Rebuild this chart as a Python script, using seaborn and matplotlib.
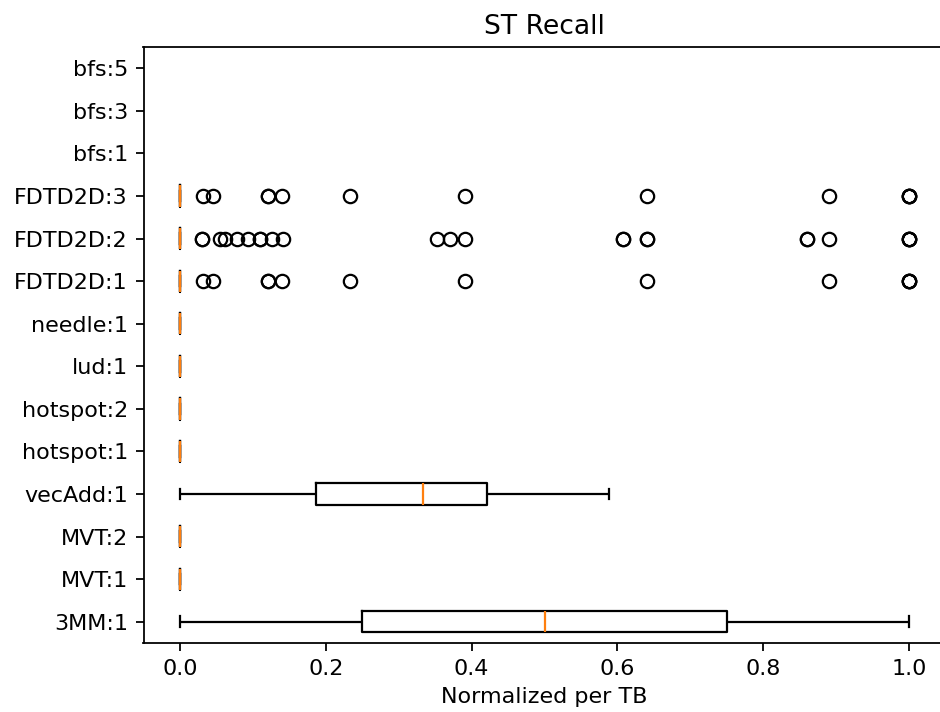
import matplotlib
matplotlib.use("Agg")
import matplotlib.pyplot as plt
import pandas as pd
import seaborn as sns

# Kernels, listed top to bottom
kernels = ["bfs:5", "bfs:3", "bfs:1", "FDTD2D:3", "FDTD2D:2", "FDTD2D:1",
           "needle:1", "lud:1", "hotspot:2", "hotspot:1", "vecAdd:1",
           "MVT:2", "MVT:1", "3MM:1"]

# Per-TB recall samples; many kernels are dominated by zero-valued TBs
zero_tbs = {
    "FDTD2D:3": 48, "FDTD2D:2": 80, "FDTD2D:1": 48,
    "needle:1": 8, "lud:1": 8, "hotspot:2": 8, "hotspot:1": 8,
    "MVT:2": 8, "MVT:1": 8,
}
fdtd2d_3 = [0.032, 0.046, 0.121, 0.121, 0.140, 0.233, 0.391, 0.640, 0.890,
            1.0, 1.0, 1.0, 1.0]
fdtd2d_2 = [0.030, 0.030, 0.055, 0.062, 0.078, 0.094, 0.110, 0.110, 0.126,
            0.142, 0.352, 0.370, 0.391, 0.608, 0.608, 0.640, 0.640, 0.860,
            0.860, 0.890, 1.0, 1.0, 1.0, 1.0]
fdtd2d_1 = [0.032, 0.046, 0.121, 0.121, 0.140, 0.233, 0.391, 0.640, 0.890,
            1.0, 1.0, 1.0, 1.0]
vecadd_1 = [0.0, 0.187, 0.334, 0.421, 0.589]
mm3_1 = [0.0, 0.25, 0.5, 0.75, 1.0]

nonzero = {"FDTD2D:3": fdtd2d_3, "FDTD2D:2": fdtd2d_2, "FDTD2D:1": fdtd2d_1}
samples = {"vecAdd:1": vecadd_1, "3MM:1": mm3_1}

rows = []
for k in kernels:
    vals = [0.0] * zero_tbs.get(k, 0) + nonzero.get(k, []) + samples.get(k, [])
    rows += [(k, v) for v in vals]
df = pd.DataFrame(rows, columns=["kernel", "value"])

fig = plt.figure(figsize=(940 / 160, 712 / 160), dpi=160)
ax = fig.add_axes([143.5 / 940, (712 - 643) / 712, 802 / 940, 596 / 712])

sns.boxplot(
    data=df, x="value", y="kernel", order=kernels, orient="h",
    width=0.5, fill=False, color="black", linecolor="black", linewidth=1.0,
    fliersize=6, whis=1.5, ax=ax,
    boxprops=dict(color="black", linewidth=1.0),
    whiskerprops=dict(color="black", linewidth=1.0),
    capprops=dict(color="black", linewidth=1.0),
    medianprops=dict(color="#ff7f0e", linewidth=1.0),
    flierprops=dict(marker="o", markerfacecolor="none",
                    markeredgecolor="black", markersize=6,
                    markeredgewidth=1.0),
)

ax.set_xlim(-0.05, 1.05)
ax.set_xticks([0.0, 0.2, 0.4, 0.6, 0.8, 1.0])
ax.set_xlabel("Normalized per TB")
ax.set_ylabel("")
ax.set_title("ST Recall")
for s in ax.spines.values():
    s.set_visible(True)

fig.savefig("out.png", dpi=160)
